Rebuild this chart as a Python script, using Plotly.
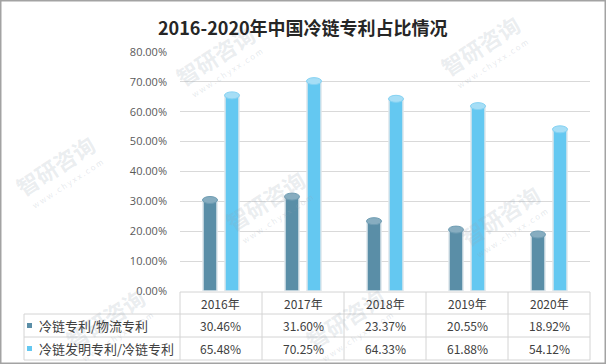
import plotly.graph_objects as go

# ---------------- data ----------------
title = "2016-2020年中国冷链专利占比情况"
years = ["2016年", "2017年", "2018年", "2019年", "2020年"]
series_names = ["冷链专利/物流专利", "冷链发明专利/冷链专利"]
logistics_share = [0.3046, 0.3160, 0.2337, 0.2055, 0.1892]
invention_share = [0.6548, 0.7025, 0.6433, 0.6188, 0.5412]
y_ticks = [0, 0.1, 0.2, 0.3, 0.4, 0.5, 0.6, 0.7, 0.8]

# ---------------- style ----------------
W, H = 606, 364
C_DARK, C_LIGHT = "#5a8ea7", "#64c8f1"
CAP_DARK, CAP_LIGHT = "#87adc0", "#a6def6"
GRID = "#d9d9d9"
TBL = "#d4d4d4"
TXT = "#404040"
FONT = "Noto Sans CJK SC, Noto Sans, sans-serif"

PL, PR, PT, PB = 180, 590, 52, 291   # plot area in px
CAT_W = (PR - PL) / len(years)        # px per category
BAR_W = 14
HALF_SP = 11

def px(x):
    return x / W

def py(y):
    return 1 - y / H

xs = list(range(len(years)))
bw = BAR_W / CAT_W
off1 = (-HALF_SP - BAR_W / 2) / CAT_W
off2 = (HALF_SP - BAR_W / 2) / CAT_W

fig = go.Figure()
for vals, name, col, off in [
    (logistics_share, series_names[0], C_DARK, off1),
    (invention_share, series_names[1], C_LIGHT, off2),
]:
    fig.add_trace(go.Bar(
        x=xs, y=vals, name=name, width=bw, offset=off,
        marker=dict(color=col, line=dict(color="#dde6eb", width=1.5)),
        showlegend=False, hoverinfo="skip",
    ))

shapes = []
# cylinder caps (anchored at data values)
for vals, off, cap, rim in [
    (logistics_share, off1, CAP_DARK, "#6f9db3"),
    (invention_share, off2, CAP_LIGHT, "#84d2f3"),
]:
    for i, v in enumerate(vals):
        cx = i + off + bw / 2
        shapes.append(dict(
            type="circle", xref="x", yref="y",
            xsizemode="pixel", ysizemode="pixel",
            xanchor=cx, yanchor=v, x0=-BAR_W / 2 - 0.5, x1=BAR_W / 2 + 0.5, y0=-3.5, y1=3.5,
            fillcolor=cap, line=dict(color=rim, width=1), layer="above",
        ))

# table geometry (px)
T_LEFT = 24
ROWS = [292, 314, 337, 360]
cols = [PL + CAT_W * k for k in range(len(years) + 1)]

def hline(x0, x1, y):
    shapes.append(dict(type="line", xref="paper", yref="paper",
                       x0=px(x0), x1=px(x1), y0=py(y), y1=py(y),
                       line=dict(color=TBL, width=1)))

def vline(x, y0, y1):
    shapes.append(dict(type="line", xref="paper", yref="paper",
                       x0=px(x), x1=px(x), y0=py(y0), y1=py(y1),
                       line=dict(color=TBL, width=1)))

hline(PL, PR, ROWS[0])
for r in ROWS[1:]:
    hline(T_LEFT, PR, r)
vline(T_LEFT, ROWS[1], ROWS[3])
for c in cols:
    vline(c, ROWS[0], ROWS[3])

# figure border
shapes.append(dict(type="rect", xref="paper", yref="paper", x0=0, x1=1, y0=0, y1=1,
                   line=dict(color="#a3a3a3", width=3)))

annotations = []
# watermarks
wm = [(215, 55), (480, 45), (55, 165), (265, 200), (500, 215), (105, 318), (345, 318)]
for (wx, wy) in wm:
    annotations.append(dict(
        x=px(wx), y=py(wy), xref="paper", yref="paper", showarrow=False,
        xanchor="center", yanchor="middle",
        text="<b>智研咨询</b>", textangle=-33,
        font=dict(family=FONT, size=22, color="rgba(150,165,180,0.2)"),
    ))
    annotations.append(dict(
        x=px(wx + 12), y=py(wy + 18), xref="paper", yref="paper", showarrow=False,
        xanchor="center", yanchor="middle",
        text="w w w . c h y x x . c o m", textangle=-33,
        font=dict(family=FONT, size=8, color="rgba(150,165,180,0.25)"),
    ))

# title
annotations.append(dict(
    x=px(303), y=py(27), xref="paper", yref="paper", showarrow=False,
    xanchor="center", yanchor="middle",
    text="<b>" + title + "</b>",
    font=dict(family=FONT, size=18, color="#262626"),
))

# table text
row_c = [(ROWS[k] + ROWS[k + 1]) / 2 for k in range(3)]
for k, yr in enumerate(years):
    cx = (cols[k] + cols[k + 1]) / 2
    annotations.append(dict(x=px(cx), y=py(row_c[0]), xref="paper", yref="paper",
                            xanchor="center", yanchor="middle",
                            showarrow=False, text=yr,
                            font=dict(family=FONT, size=12, color=TXT)))
    for r, vals in enumerate([logistics_share, invention_share]):
        annotations.append(dict(x=px(cx), y=py(row_c[r + 1]), xref="paper", yref="paper",
                                xanchor="center", yanchor="middle",
                                showarrow=False, text=f"{vals[k]:.2%}",
                                font=dict(family=FONT, size=12, color=TXT)))

for r, (name, col) in enumerate(zip(series_names, [C_DARK, C_LIGHT])):
    shapes.append(dict(type="rect", xref="paper", yref="paper",
                       x0=px(27), x1=px(32), y0=py(row_c[r + 1] - 2.5), y1=py(row_c[r + 1] + 2.5),
                       fillcolor=col, line=dict(width=0)))
    annotations.append(dict(x=px(37), y=py(row_c[r + 1]), xref="paper", yref="paper",
                            xanchor="left", yanchor="middle", showarrow=False, text=name,
                            font=dict(family=FONT, size=13, color=TXT)))

fig.update_layout(
    width=W, height=H,
    margin=dict(l=0, r=0, t=0, b=0, autoexpand=False),
    paper_bgcolor="white", plot_bgcolor="white",
    barmode="group",
    xaxis=dict(domain=[px(PL), px(PR)], range=[-0.5, len(years) - 0.5], automargin=False,
               showticklabels=False, showgrid=False, zeroline=False, showline=False),
    yaxis=dict(domain=[py(PB), py(PT)], range=[0, 0.8], tickvals=y_ticks, automargin=False,
               tickformat=".2%", showgrid=True, gridcolor=GRID, gridwidth=1,
               zeroline=False, showline=False, ticks="", ticklabelstandoff=12,
               tickfont=dict(family="Open Sans, sans-serif", size=11, color="#595959")),
    shapes=shapes, annotations=annotations,
)

fig.write_html(
    "out.html",
    config={"displayModeBar": False},
    post_script="document.body.style.margin='0';document.documentElement.style.overflow='hidden';document.body.style.overflow='hidden';",
)
